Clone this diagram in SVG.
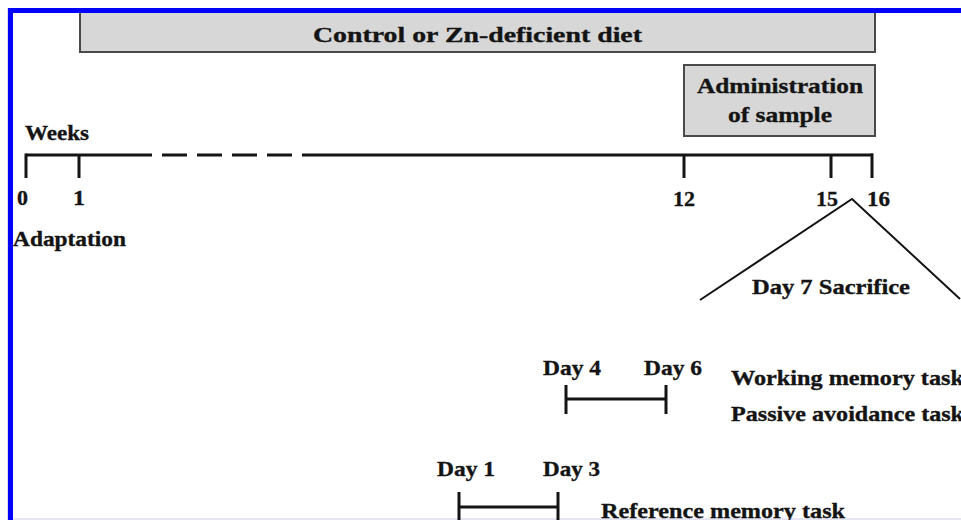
<svg xmlns="http://www.w3.org/2000/svg" width="961" height="520" viewBox="0 0 961 520">
<style>
text{font-family:"Liberation Serif","Times New Roman",serif;font-weight:bold;fill:#141414;stroke:#141414;stroke-width:0.35;font-size:22px}
.box{fill:#d7d7d7;stroke:#4a4a4a;stroke-width:2}
.ln{stroke:#141414;stroke-width:3;fill:none}
.thin{stroke:#141414;stroke-width:2;fill:none}
</style>
<rect x="0" y="0" width="961" height="520" fill="#ffffff"/>
<g id="frame">
<line x1="13" y1="519" x2="961" y2="519" stroke="#dcdcf0" stroke-width="1.5"/>
<line x1="7.5" y1="8" x2="7.5" y2="520" stroke="#dcdcf0" stroke-width="1"/>
<rect x="8" y="8" width="953" height="5" fill="#0000ff"/>
<rect x="8" y="8" width="5" height="512" fill="#0000ff"/>
</g>
<g id="diet">
<path class="box" d="M80,13 V52 H875 V13"/>
<rect x="81" y="13" width="793" height="38" fill="#d7d7d7"/>
<text x="313" y="42" font-size="25" textLength="329" lengthAdjust="spacingAndGlyphs">Control or Zn-deficient diet</text>
</g>
<g id="administration">
<rect class="box" x="684" y="65" width="191" height="71"/>
<text x="697" y="93" textLength="166" lengthAdjust="spacingAndGlyphs">Administration</text>
<text x="728" y="122" textLength="104" lengthAdjust="spacingAndGlyphs">of sample</text>
</g>
<g id="connectors">
<path class="ln" d="M26,155 H127"/>
<path class="ln" d="M127,155 H302" stroke-dasharray="25,10"/>
<path class="ln" d="M302,155 H873"/>
<path class="ln" d="M26,153.5 V178 M79,155 V178 M684,155 V178 M831,155 V178 M872,153.5 V178"/>
<path class="thin" d="M700,300 L852,199 L960,299"/>
<path class="ln" d="M566,385 V414 M566,399 H666 M666,385 V414"/>
<path class="ln" d="M459,492 V520 M459,507 H558 M558,492 V520"/>
</g>
<g id="weeks-labels">
<text x="25" y="140" textLength="64" lengthAdjust="spacingAndGlyphs">Weeks</text>
<text x="17" y="205" textLength="11" lengthAdjust="spacingAndGlyphs">0</text>
<text x="73" y="205" textLength="12" lengthAdjust="spacingAndGlyphs">1</text>
<text x="673" y="206" textLength="22" lengthAdjust="spacingAndGlyphs">12</text>
<text x="816" y="206" textLength="22" lengthAdjust="spacingAndGlyphs">15</text>
<text x="867" y="206" textLength="23" lengthAdjust="spacingAndGlyphs">16</text>
<text x="13" y="246" textLength="113" lengthAdjust="spacingAndGlyphs">Adaptation</text>
</g>
<g id="sacrifice">
<text x="752" y="294" textLength="158" lengthAdjust="spacingAndGlyphs">Day 7 Sacrifice</text>
</g>
<g id="day4-6">
<text x="543" y="375" textLength="58" lengthAdjust="spacingAndGlyphs">Day 4</text>
<text x="644" y="375" textLength="58" lengthAdjust="spacingAndGlyphs">Day 6</text>
<text x="731" y="385" textLength="233" lengthAdjust="spacingAndGlyphs">Working memory task</text>
<text x="731" y="421" textLength="233" lengthAdjust="spacingAndGlyphs">Passive avoidance task</text>
</g>
<g id="day1-3">
<text x="437" y="476" textLength="58" lengthAdjust="spacingAndGlyphs">Day 1</text>
<text x="543" y="476" textLength="57" lengthAdjust="spacingAndGlyphs">Day 3</text>
<text x="601" y="518" textLength="244" lengthAdjust="spacingAndGlyphs">Reference memory task</text>
</g>
</svg>
